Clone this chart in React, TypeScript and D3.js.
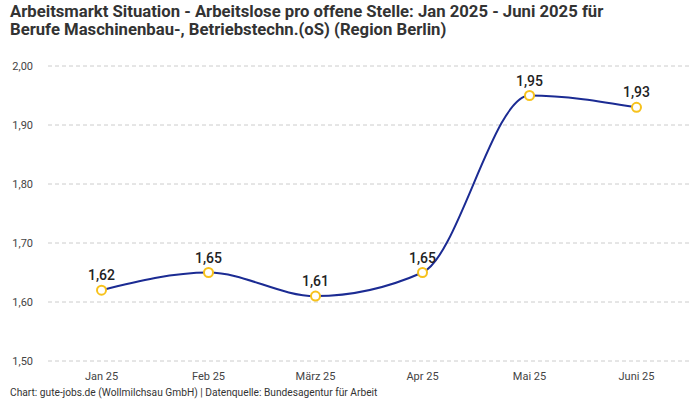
import React from "react";
import * as d3 from "d3";

const months = ["Jan 25", "Feb 25", "März 25", "Apr 25", "Mai 25", "Juni 25"];
const values = [1.62, 1.65, 1.61, 1.65, 1.95, 1.93];
const yTicks = [1.5, 1.6, 1.7, 1.8, 1.9, 2.0];
const titleLines = [
  "Arbeitsmarkt Situation - Arbeitslose pro offene Stelle: Jan 2025 - Juni 2025 für",
  "Berufe Maschinenbau-, Betriebstechn.(oS) (Region Berlin)",
];
const footer = "Chart: gute-jobs.de (Wollmilchsau GmbH) | Datenquelle: Bundesagentur für Arbeit";

const W = 700;
const H = 400;
const left = 48;
const right = 690;
const top = 66;
const bottom = 361;

export default function App() {
  const x = d3.scalePoint<string>().domain(months).range([left, right]).padding(0.5);
  const y = d3.scaleLinear().domain([1.5, 2.0]).range([bottom, top]);
  const fmt = (v: number) => v.toFixed(2).replace(".", ",");
  const line = d3
    .line<number>()
    .x((_, i) => x(months[i]) as number)
    .y((d) => y(d))
    .curve(d3.curveMonotoneX);
  const font = "Roboto, 'Open Sans', sans-serif";
  return (
    <svg
      width={W}
      height={H}
      style={{ position: "absolute", left: 0, top: 0, background: "#fff" }}
      fontFamily={font}
    >
      {titleLines.map((t, i) => (
        <text key={i} x={10} y={17 + i * 18} fontSize={16.7} fontWeight={700} fill="#333">
          {t}
        </text>
      ))}
      {yTicks.map((t) => (
        <g key={t}>
          <line x1={left} x2={right} y1={y(t)} y2={y(t)} stroke="#ccc" strokeDasharray="4,3" strokeWidth={1} />
          <text x={33} y={y(t) + 4} fontSize={11} fill="#444" textAnchor="end">
            {fmt(t)}
          </text>
        </g>
      ))}
      {months.map((m) => (
        <text key={m} x={x(m)} y={380} fontSize={11} fill="#444" textAnchor="middle">
          {m}
        </text>
      ))}
      <path d={line(values) || ""} fill="none" stroke="#1b2b93" strokeWidth={2} />
      {values.map((v, i) => (
        <g key={i}>
          <circle cx={x(months[i])} cy={y(v)} r={4.5} fill="#fff" stroke="#f7c21c" strokeWidth={2} />
          <text x={x(months[i])} y={y(v) - 10} fontSize={14} fontWeight={500} fill="#222" textAnchor="middle">
            {fmt(v)}
          </text>
        </g>
      ))}
      <text x={10} y={396} fontSize={10.2} fill="#333">
        {footer}
      </text>
    </svg>
  );
}
